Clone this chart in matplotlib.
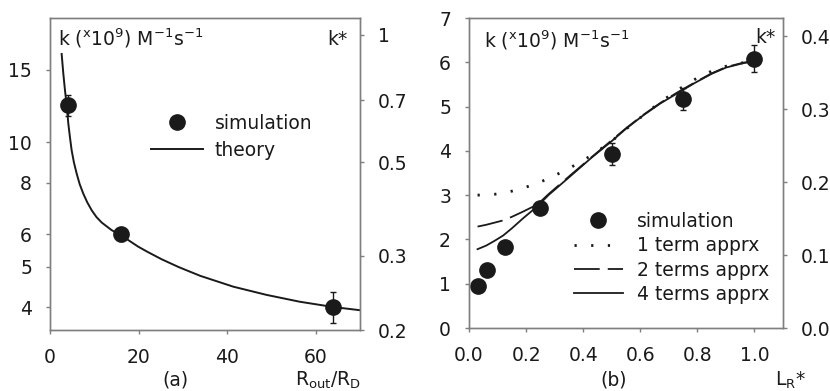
import numpy as np
import matplotlib
matplotlib.use('Agg')
import matplotlib.pyplot as plt
from matplotlib.lines import Line2D

plt.rcParams['font.family'] = ['DejaVu Sans']
plt.rcParams['mathtext.fontset'] = 'dejavusans'
plt.rcParams['lines.scale_dashes'] = False

# ---------------- data, panel (a) ----------------
a_sim_x = [4, 16, 64]
a_sim_k = [12.3, 6.0, 4.0]
a_sim_err = [0.7, 0.22, 0.35]
a_theory_x = [2.63, 3.0, 3.39, 3.77, 4.14, 4.5, 4.89, 5.4, 6.02, 6.7, 7.52, 8.4,
              9.4, 10.5, 11.7, 13.9, 16.2, 19.9, 22.0, 25.2, 29.0, 33.9, 41.4,
              48.9, 56.4, 64.0, 70.0]
a_theory_k = [16.37, 14.7, 13.35, 12.3, 11.1, 10.3, 9.57, 8.95, 8.41, 7.93, 7.52,
              7.17, 6.86, 6.60, 6.40, 6.14, 5.95, 5.60, 5.44, 5.22, 5.00, 4.76,
              4.48, 4.28, 4.12, 4.0, 3.93]
a_left_ticks = [4, 5, 6, 8, 10, 15]
a_right_ticks = [0.2, 0.3, 0.5, 0.7, 1]
a_right_labels = ['0.2', '0.3', '0.5', '0.7', '1']

# ---------------- data, panel (b) ----------------
b_sim_x = [1/32, 1/16, 1/8, 1/4, 1/2, 3/4, 1.0]
b_sim_k = [0.95, 1.31, 1.83, 2.72, 3.93, 5.18, 6.08]
b_sim_err = [0, 0, 0, 0, 0.25, 0.25, 0.3]
b_curve_x = [0.03, 0.06, 0.09, 0.12, 0.15, 0.19, 0.24, 0.28, 0.35, 0.43, 0.5,
             0.55, 0.61, 0.67, 0.73, 0.79, 0.85, 0.9, 0.96, 1.0]
b_term1 = [3.00, 3.01, 3.02, 3.05, 3.09, 3.16, 3.27, 3.38, 3.60, 3.90, 4.22,
           4.49, 4.80, 5.10, 5.37, 5.61, 5.80, 5.91, 5.99, 6.04]
b_term2 = [2.29, 2.33, 2.38, 2.43, 2.51, 2.63, 2.79, 3.03, 3.42, 3.86, 4.24,
           4.51, 4.81, 5.08, 5.32, 5.54, 5.75, 5.89, 5.99, 6.03]
b_term4 = [1.78, 1.86, 1.97, 2.09, 2.25, 2.48, 2.75, 3.01, 3.40, 3.85, 4.22,
           4.50, 4.80, 5.07, 5.30, 5.53, 5.74, 5.88, 5.98, 6.02]

W, H = 830, 391
fig = plt.figure(figsize=(W / 100, H / 100), dpi=100)

def px(x0, y0, x1, y1):
    return [x0 / W, 1 - y1 / H, (x1 - x0) / W, (y1 - y0) / H]

dark = '#1a1a1a'
spine_c = '#7f7f7f'
fs = 13.5

def style(ax):
    for s in ax.spines.values():
        s.set_color(spine_c)
        s.set_linewidth(1.0)
    ax.tick_params(direction='out', length=3, width=1, color=spine_c,
                   labelsize=fs, pad=10, labelcolor=dark)

# ---------------- panel (a) ----------------
ax1 = fig.add_axes(px(50, 18, 360, 330))
ax1.set_yscale('log')
ax1.plot(a_theory_x, a_theory_k, color=dark, lw=1.4)
ax1.errorbar(a_sim_x, a_sim_k, yerr=a_sim_err, fmt='o', color=dark, ms=11,
             capsize=2.5, elinewidth=1, capthick=1)
ax1.set_xlim(0, 70)
ax1.set_ylim(3.52, 20.0)
ax1.set_xticks([0, 20, 40, 60])
ax1.set_yticks(a_left_ticks)
ax1.set_yticklabels([str(t) for t in a_left_ticks])
ax1.yaxis.set_minor_locator(matplotlib.ticker.NullLocator())
style(ax1)
ax1r = ax1.twinx()
ax1r.set_yscale('log')
ax1r.set_ylim(0.2, 1.097)
ax1r.set_yticks(a_right_ticks)
ax1r.set_yticklabels(a_right_labels)
ax1r.yaxis.set_minor_locator(matplotlib.ticker.NullLocator())
style(ax1r)

h_sim = Line2D([], [], marker='o', ls='none', color=dark, ms=11)
h_th = Line2D([], [], color=dark, lw=1.4)
ax1.legend([h_sim, h_th], ['simulation', 'theory'], loc='upper left',
           bbox_to_anchor=(151 / W, 1 - 114 / H), bbox_transform=fig.transFigure,
           frameon=False, fontsize=fs, borderpad=0, borderaxespad=0,
           handlelength=2.75, handletextpad=0.65, labelspacing=0.4,
           labelcolor=dark)

# ---------------- panel (b) ----------------
ax2 = fig.add_axes(px(469, 18, 783, 328))
ax2.plot(b_curve_x, b_term1, color=dark, lw=2.0, ls=(0, (1.6, 10.4)))
ax2.plot(b_curve_x, b_term2, color=dark, lw=1.3, ls=(0, (18.5, 5.8)))
ax2.plot(b_curve_x, b_term4, color=dark, lw=1.3)
ax2.errorbar(b_sim_x, b_sim_k, yerr=b_sim_err, fmt='o', color=dark, ms=11,
             capsize=2.5, elinewidth=1, capthick=1)
ax2.set_xlim(0, 1.1)
ax2.set_ylim(0, 7)
ax2.set_xticks([0.0, 0.2, 0.4, 0.6, 0.8, 1.0])
ax2.set_xticklabels(['0.0', '0.2', '0.4', '0.6', '0.8', '1.0'])
ax2.set_yticks(range(8))
style(ax2)
ax2r = ax2.twinx()
ax2r.set_ylim(0, 0.4247)
ax2r.set_yticks([0.0, 0.1, 0.2, 0.3, 0.4])
ax2r.set_yticklabels(['0.0', '0.1', '0.2', '0.3', '0.4'])
style(ax2r)

h_t1 = Line2D([], [], color=dark, lw=2.0, ls=(0, (1.6, 10.4)))
h_t2 = Line2D([], [], color=dark, lw=1.3, ls=(0, (18.5, 5.8)))
h_t4 = Line2D([], [], color=dark, lw=1.3)
ax2.legend([h_sim, h_t1, h_t2, h_t4],
           ['simulation', '1 term apprx', '2 terms apprx', '4 terms apprx'],
           loc='upper left', bbox_to_anchor=(574 / W, 1 - 212 / H),
           bbox_transform=fig.transFigure, frameon=False, fontsize=fs,
           borderpad=0, borderaxespad=0, handlelength=2.6,
           handletextpad=0.75, labelspacing=0.28, labelcolor=dark)

# ---------------- labels ----------------
klabel = r'k ($^{\mathrm{x}}$10$^{9}$) M$^{\mathrm{-1}}$s$^{\mathrm{-1}}$'
fig.text(58 / W, 1 - 45 / H, klabel, fontsize=fs, va='baseline', ha='left',
         color=dark)
fig.text(327 / W, 1 - 45 / H, 'k*', fontsize=fs, va='baseline', ha='left',
         color=dark)
fig.text(484 / W, 1 - 48 / H, klabel, fontsize=fs, va='baseline', ha='left',
         color=dark)
fig.text(755 / W, 1 - 43 / H, 'k*', fontsize=fs, va='baseline', ha='left',
         color=dark)
fig.text(175 / W, 1 - 386 / H, '(a)', fontsize=fs, va='baseline', ha='center',
         color=dark)
fig.text(295 / W, 1 - 386 / H, r'R$_{\mathrm{out}}$/R$_{\mathrm{D}}$',
         fontsize=fs, va='baseline', ha='left', color=dark)
fig.text(614 / W, 1 - 386 / H, '(b)', fontsize=fs, va='baseline', ha='center',
         color=dark)
fig.text(775 / W, 1 - 386 / H, r'L$_{\mathrm{R}}$*', fontsize=fs,
         va='baseline', ha='left', color=dark)

fig.savefig('out.png', dpi=100)
